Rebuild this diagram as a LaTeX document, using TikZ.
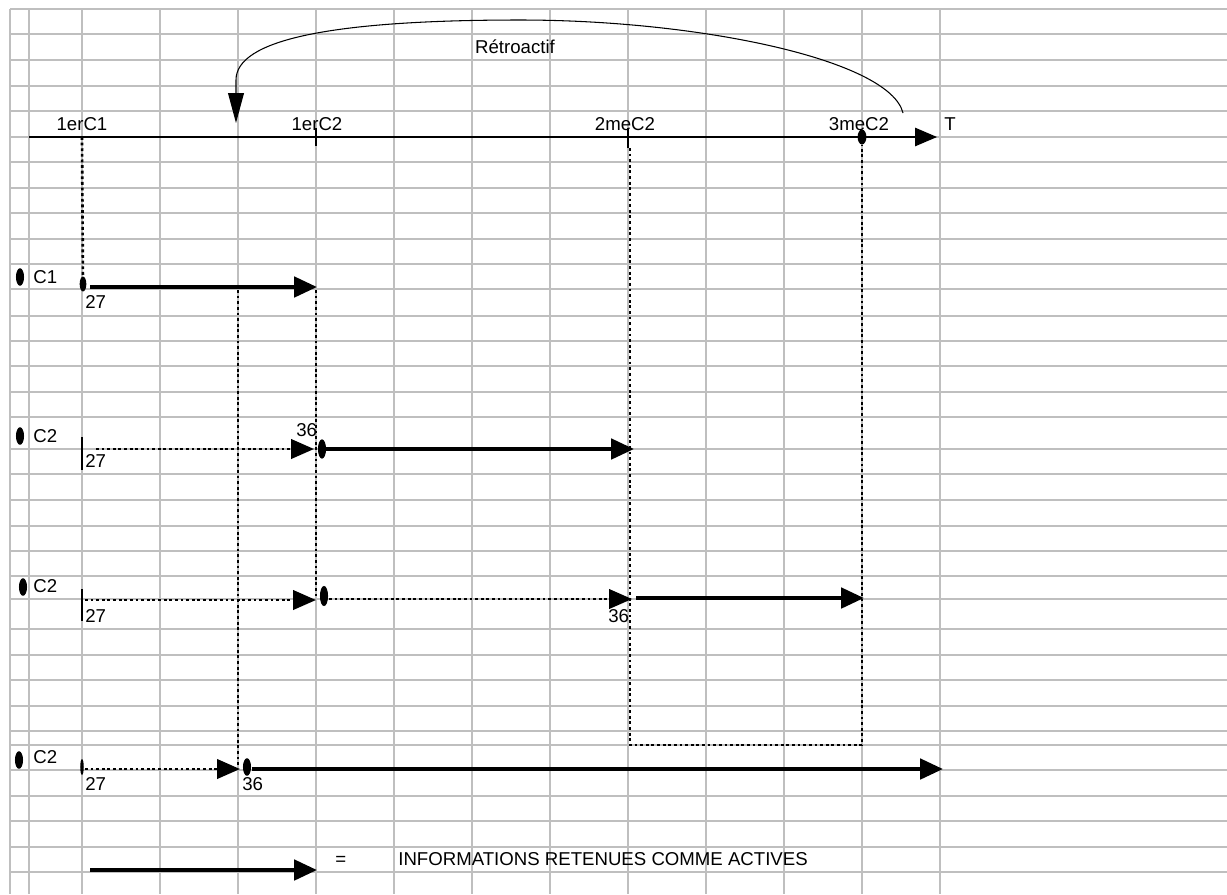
\documentclass[tikz,border=0pt]{standalone}
\usepackage{fontspec}
\setmainfont{Liberation Sans}
\usetikzlibrary{arrows.meta, shapes.geometric}

\begin{document}
\begin{tikzpicture}[
    x=0.02cm, y=-0.02cm,
    every node/.style={font=\fontsize{10.6}{12}\selectfont, inner sep=0pt},
    grille/.style={draw=gray!50, line width=1.1pt},
    axe/.style={-{Triangle[length=12.5pt, width=10.5pt]}, line width=0.7pt},
    retro/.style={-{Triangle[length=17pt, width=9pt]}, line width=0.6pt},
    actif/.style={-{Triangle[length=13pt, width=11.5pt]}, line width=2.3pt},
    inactif/.style={-{Triangle[length=13pt, width=11pt]}, line width=1.5pt, dash pattern=on 1.6pt off 1.6pt},
    repere/.style={line width=1.5pt, dash pattern=on 1.6pt off 1.6pt},
    pastille/.style={ellipse, fill=black, minimum width=4.6pt, minimum height=10pt},
    trait/.style={line width=0.6pt},
    etiq/.style={anchor=base west},
    date/.style={anchor=base},
]
\useasboundingbox (0,0) rectangle (1227,894);
% grille du tableur
\foreach \gx in {10,29,82,160,...,940}
    \draw[grille] (\gx,9) -- (\gx,894);
\foreach \gy in {9,34,60,86,111,137,162,188,213,239,264,289,316,341,366,392,417,449,474,500,526,551,576,599,629,655,680,706,731,745,770,796,821,847,872}
    \draw[grille] (10,\gy) -- (1227,\gy);

% axe du temps
\coordinate (T0) at (29,137);
\coordinate (T1) at (937,137);
\draw[axe] (T0) -- (T1);
\node[etiq] (Tlab) at (944,130) {T};
\node[date] (D1) at (82,130) {1erC1};
\node[date] (D2) at (317,130) {1erC2};
\node[date] (D3) at (625,130) {2meC2};
\node[date] (D4) at (859,130) {3meC2};
\coordinate (K2a) at (316,128); \coordinate (K2b) at (316,146);
\coordinate (K3a) at (628,128); \coordinate (K3b) at (628,148);
\draw[trait] (K2a) -- (K2b);
\draw[trait] (K3a) -- (K3b);
\node[pastille, minimum width=5pt, minimum height=8.5pt] (P3) at (862,137) {};

% retroactif
\coordinate (R0) at (903,113);
\coordinate (R1) at (236,123);
\draw[retro] (R0) .. controls (890,60) and (700,20) .. (520,20) .. controls (330,20) and (236,40) .. (236,80) -- (R1);
\node[date] (Rlab) at (515,53) {Rétroactif};

% lignes de repere
\coordinate (V1a) at (82,137);
\coordinate (V2a) at (238,290); \coordinate (V2b) at (238,765);
\coordinate (V3a) at (316,290); \coordinate (V3b) at (316,598);
\coordinate (V4a) at (630,148); \coordinate (V4b) at (630,745); \coordinate (V5b) at (862,745);
\draw[repere] (V2a) -- (V2b);
\draw[repere] (V3a) -- (V3b);
\draw[repere] (V4a) -- (V4b) -- (V5b) -- (P3);

% C1
\node[pastille] (C1p) at (20,277) {};
\node[etiq] (C1t) at (33,283) {C1};
\node[pastille, minimum width=3.8pt, minimum height=8.5pt] (C1d) at (83,284) {};
\draw[repere] (V1a) -- (C1d);
\coordinate (C1a) at (90,287); \coordinate (C1b) at (317,287);
\draw[actif] (C1a) -- (C1b);
\node[etiq] (C1n) at (85,308) {27};

% C2, premier
\node[pastille] (C2p) at (20,436) {};
\node[etiq] (C2t) at (33,442) {C2};
\coordinate (C2k) at (82,437); \coordinate (C2l) at (82,470);
\draw[trait] (C2k) -- (C2l);
\node[etiq] (C2n) at (85,467) {27};
\coordinate (C2a) at (96,449); \coordinate (C2b) at (314,449);
\draw[inactif] (C2a) -- (C2b);
\node[etiq] (C2m) at (296,436) {36};
\node[pastille, minimum height=11pt] (C2d) at (322,449) {};
\coordinate (C2c) at (634,449);
\draw[actif] (C2d) -- (C2c);

% C2, deuxieme
\node[pastille] (C3p) at (23,587) {};
\node[etiq] (C3t) at (33,592) {C2};
\coordinate (C3k) at (82,589); \coordinate (C3l) at (82,621);
\draw[trait] (C3k) -- (C3l);
\node[etiq] (C3n) at (85,622) {27};
\coordinate (C3a) at (85,600); \coordinate (C3b) at (316,600);
\draw[inactif] (C3a) -- (C3b);
\node[pastille, minimum height=11.5pt] (C3d) at (324,596) {};
\coordinate (C3g) at (329,599); \coordinate (C3c) at (632,599);
\draw[inactif] (C3g) -- (C3c);
\node[etiq] (C3m) at (608,622) {36};
\coordinate (C3e) at (636,598); \coordinate (C3f) at (864,598);
\draw[actif] (C3e) -- (C3f);

% C2, troisieme
\node[pastille] (C4p) at (19,760) {};
\node[etiq] (C4t) at (33,763) {C2};
\node[pastille, minimum width=2pt, minimum height=9pt] (C4o) at (82,767) {};
\node[etiq] (C4n) at (85,790) {27};
\coordinate (C4a) at (85,769); \coordinate (C4b) at (240,769);
\draw[inactif] (C4a) -- (C4b);
\node[pastille] (C4d) at (247,767) {};
\node[etiq] (C4m) at (242,790) {36};
\coordinate (C4s) at (252,769); \coordinate (C4c) at (943,769);
\draw[actif] (C4s) -- (C4c);

% legende
\coordinate (Lg0) at (90,870); \coordinate (Lg1) at (317,870);
\draw[actif] (Lg0) -- (Lg1);
\node[etiq] (Leq) at (335,865) {=};
\node[etiq] (Ltxt) at (398,865) {INFORMATIONS RETENUES COMME ACTIVES};
\end{tikzpicture}
\end{document}
